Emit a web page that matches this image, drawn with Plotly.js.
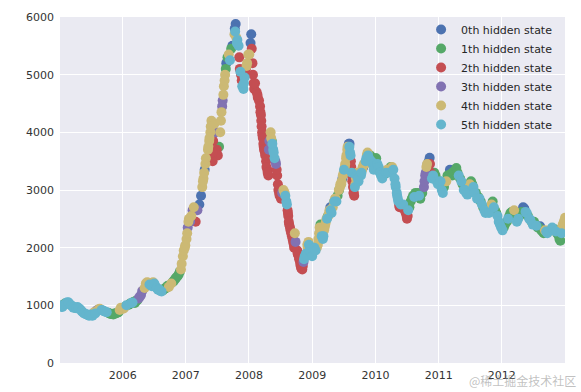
<!DOCTYPE html>
<html>
<head>
<meta charset="utf-8">
<script src="https://cdn.plot.ly/plotly-3.0.1.min.js"></script>
<style>html,body{margin:0;padding:0;background:#fff;}#chart{width:581px;height:392px;}</style>
</head>
<body>
<div id="chart"></div>
<script>
// Index close values, grouped by year; state = hidden state index (0..5)
const dates2005 = ['01-04','01-18','02-01','02-16','03-01','03-15','04-01','04-15','05-01','05-16','06-01','06-15','06-30','07-11','07-20','08-01','08-15','09-01','09-15','10-01','10-17','11-01','11-15','12-01','12-15',
  '01-11','01-25','02-08','02-23','03-08','03-22','04-08','04-22','05-09','05-23','06-08','06-22','07-05','07-27','08-08','08-22','09-08','09-22','10-10','10-24','11-08','11-22','12-08','12-22'];
const close2005 = [1000,970,1030,1055,1020,990,960,970,930,880,850,830,840,820,880,900,930,920,900,880,860,850,860,870,920,
  990,1000,1040,1050,1000,960,950,950,900,860,840,820,830,860,920,940,910,890,870,850,840,860,880,960];
const state2005 = [5,5,1,5,5,5,1,5,5,5,5,5,5,5,4,3,4,5,5,5,1,1,1,1,4,
  5,1,5,5,5,5,5,5,5,5,5,5,5,5,3,4,5,5,1,1,1,1,1,4];

const dates2006 = ['01-04','01-16','02-06','02-20','03-06','03-20','04-03','04-17','05-08','05-15','05-29','06-12','06-26','07-10','07-24','08-07','08-21','09-04','09-18','10-09','10-23','11-06','11-20','12-04','12-15','12-29',
  '01-10','01-23','02-13','02-27','03-13','03-27','04-10','04-24','05-22','06-05','06-19','07-03','07-17','07-31','08-14','08-28','09-11','09-25','10-16','10-30','11-13','11-27','12-08','12-20','12-26'];
const close2006 = [940,980,1010,1040,1060,1080,1120,1180,1300,1380,1390,1350,1400,1330,1270,1250,1260,1300,1340,1380,1420,1480,1530,1620,1850,2040,
  960,1000,1030,1050,1040,1090,1150,1250,1400,1360,1330,1380,1300,1280,1240,1280,1300,1320,1400,1450,1500,1580,1720,1950,2000];
const state2006 = [4,1,1,5,1,1,3,3,4,4,4,5,4,5,5,5,1,1,1,4,1,1,1,4,4,4,
  4,5,1,5,1,1,3,3,4,5,5,5,5,5,5,1,1,4,1,1,1,1,4,4,4];

const dates2007 = ['01-05','01-12','01-19','01-26','02-02','02-09','02-16','02-27','03-09','03-20','03-30','04-06','04-13','04-20','04-27','05-09','05-16','05-23','05-29','06-04','06-08','06-15','06-22','06-29','07-05','07-12','07-19','07-26','08-02','08-09','08-16','08-23','08-30','09-06','09-13','09-20','09-27','10-09','10-16','10-19','10-26','11-02','11-09','11-16','11-23','11-30','12-07','12-14','12-21','12-28',
  '01-09','01-16','04-10','04-17','04-24','05-11','05-18','05-25','05-31','06-05','06-06','07-23','07-30','08-06','08-13','08-20','10-11','10-13','10-23','11-06','11-12','11-20','12-03','12-10','12-18'];
const close2007 = [2150,2350,2500,2450,2550,2650,2700,2450,2650,2750,2900,3050,3200,3350,3550,3700,3850,4000,4200,3600,3850,4150,4000,3700,3600,3750,4000,4350,4550,4800,5000,5200,5300,5350,5250,5450,5500,5700,5880,5650,5600,5500,5100,5000,4800,4750,4950,5100,5200,5350,
  2250,2450,3150,3300,3450,3750,3900,4100,3900,3500,3650,4200,4450,4650,4900,5100,5800,5750,5550,5300,5050,4900,4850,5000,5150];
const state2007 = [4,3,4,3,4,3,4,2,3,0,0,4,4,0,4,4,4,4,4,2,2,4,3,2,2,1,4,4,3,4,4,0,1,4,5,1,0,4,0,4,5,5,2,2,5,5,5,2,4,4,
  4,4,4,4,4,4,4,4,2,2,2,4,3,4,4,1,0,5,5,2,5,2,5,2,4];

const dates2008 = ['01-03','01-10','01-14','01-17','01-21','01-24','01-31','02-05','02-14','02-21','02-28','03-05','03-12','03-19','03-26','04-02','04-09','04-16','04-22','04-25','05-05','05-12','05-20','05-28','06-05','06-12','06-19','06-26','07-04','07-11','07-18','07-25','08-04','08-11','08-15','08-20','08-28','09-05','09-12','09-18','09-22','09-26','10-08','10-15','10-22','10-28','11-04','11-11','11-18','11-25','12-03','12-10','12-17','12-24','12-31',
  '01-28','02-19','03-07','03-10','03-14','03-17','03-21','03-24','03-28','04-04','04-11','04-18','04-28','05-08','05-15','05-23','06-02','06-09','06-16','06-23','07-29','08-07','08-13','08-18','08-25','09-01','09-09','09-16','10-06','10-10','10-17','10-24','10-31','11-07','11-14','12-05','12-12'];
const close2008 = [5350,5550,5700,5450,5200,5000,4750,4850,4700,4600,4550,4450,4200,3950,3750,3650,3500,3350,3250,3700,4000,3850,3700,3550,3450,3250,3000,2900,2850,2950,3000,2950,2800,2650,2550,2400,2300,2200,2100,2000,2250,2100,1900,1850,1750,1650,1620,1750,1850,1900,2050,2100,1950,1900,1850,
  4850,4650,4350,4300,4100,4000,3900,3800,3700,3600,3400,3300,3850,3900,3800,3650,3500,3350,3100,2950,2900,2750,2600,2450,2350,2250,2150,2050,1950,1880,1800,1700,1640,1680,1800,2000,2050];
const state2008 = [4,0,0,2,2,2,2,2,2,2,2,2,2,2,2,2,2,2,2,3,4,1,5,5,3,2,2,2,2,3,4,4,5,2,2,2,2,2,2,2,4,3,2,2,2,2,2,3,5,5,4,4,5,3,5,
  2,2,2,2,2,2,2,2,2,2,2,2,3,4,5,5,3,2,2,2,5,5,2,2,2,2,2,2,2,2,2,2,2,2,5,4,5];

const dates2009 = ['01-06','01-13','01-20','02-02','02-09','02-17','02-24','03-03','03-10','03-17','03-24','04-01','04-08','04-15','04-22','04-29','05-06','05-13','05-20','05-27','06-03','06-10','06-17','06-24','07-01','07-08','07-15','07-22','07-29','08-04','08-07','08-12','08-17','08-20','08-27','08-31','09-04','09-10','09-17','09-25','10-09','10-16','10-23','11-02','11-09','11-16','11-24','12-01','12-08','12-15','12-22','12-31',
  '01-27','02-05','02-12','02-19','03-06','03-13','03-20','03-27','04-03','04-10','04-17','05-08','05-15','06-05','06-12','06-19','06-26','07-03','07-10','07-17','07-24','07-31','08-03','08-10','08-14','08-18','08-24','08-28','09-07','09-14','09-21','10-12','10-19','10-26','11-05','11-12','11-19'];
const close2009 = [1950,2000,1950,2050,2250,2400,2200,2150,2300,2400,2500,2550,2600,2700,2600,2700,2800,2850,2800,2900,3000,3050,3100,3200,3300,3400,3550,3700,3750,3800,3650,3500,3300,3150,2950,2900,3050,3200,3300,3150,3250,3350,3400,3450,3550,3650,3550,3600,3500,3450,3350,3550,
  2000,2150,2350,2350,2200,2350,2450,2500,2550,2650,2650,2800,2850,3000,3100,3150,3250,3350,3450,3600,3750,3800,3750,3600,3400,3250,3050,2950,3100,3250,3200,3300,3400,3450,3500,3600,3600];
const state2009 = [4,5,5,4,4,1,5,5,4,4,4,1,4,0,5,4,4,4,5,1,4,4,4,0,4,4,4,4,0,0,5,2,5,2,2,2,5,4,4,5,5,4,0,4,5,4,5,1,5,5,5,1,
  4,4,4,1,5,4,4,5,4,4,5,5,4,1,4,4,4,5,4,4,4,0,5,5,2,2,2,2,4,5,5,5,4,4,5,4,5];

const dates2010 = ['01-05','01-12','01-19','01-26','02-02','02-09','02-23','03-02','03-09','03-16','03-23','03-30','04-07','04-14','04-21','04-28','05-06','05-13','05-20','05-27','06-03','06-10','06-18','06-25','07-02','07-09','07-16','07-23','07-30','08-06','08-13','08-20','08-27','09-03','09-10','09-17','09-28','10-08','10-15','10-22','10-29','11-05','11-10','11-16','11-23','11-30','12-07','12-14','12-21','12-28',
  '04-26','05-04','05-10','05-17','06-30','07-06','10-11','10-18','10-26','11-12','11-18'];
const close2010 = [3550,3450,3400,3300,3250,3200,3280,3300,3350,3300,3350,3400,3400,3350,3200,3050,2900,2800,2700,2750,2700,2750,2650,2600,2500,2650,2700,2800,2850,2900,2880,2950,2900,2950,2900,2850,2950,3050,3250,3400,3450,3500,3560,3300,3200,3250,3300,3250,3150,3100,
  3100,2950,2850,2750,2550,2550,3150,3300,3450,3450,3250];
const state2010 = [1,5,5,5,5,5,1,5,4,5,4,1,4,5,5,5,5,5,2,5,2,5,2,2,2,5,1,1,1,1,5,1,1,1,5,1,1,3,3,4,0,0,0,2,5,5,1,1,5,5,
  5,5,5,2,2,2,3,3,4,2,2];

const dates2011 = ['01-05','01-12','01-19','01-25','02-01','02-14','02-21','02-28','03-07','03-14','03-21','03-28','04-06','04-13','04-20','04-27','05-05','05-12','05-19','05-26','06-02','06-09','06-16','06-23','06-30','07-07','07-14','07-21','07-28','08-04','08-11','08-18','08-25','09-01','09-08','09-15','09-22','09-29','10-12','10-19','10-26','11-02','11-09','11-16','11-23','11-30','12-07','12-14','12-21','12-28'];
const close2011 = [3150,3150,3000,2950,3050,3150,3250,3250,3350,3280,3250,3320,3350,3380,3300,3250,3200,3150,3100,3000,3000,2950,2920,3000,3100,3150,3100,3050,2950,2950,2850,2880,2850,2800,2750,2700,2650,2600,2650,2600,2700,2750,2800,2700,2650,2600,2550,2450,2400,2350];
const state2011 = [1,5,5,5,1,4,1,1,0,1,1,1,0,1,1,5,1,5,1,5,5,5,5,1,4,1,1,5,5,1,5,1,5,1,5,1,5,5,1,5,1,4,1,5,1,1,5,5,5,5];

const dates2012 = ['01-05','01-12','01-19','01-30','02-06','02-13','02-20','02-27','03-05','03-12','03-19','03-28','04-05','04-12','04-19','04-26','05-03','05-10','05-17','05-24','05-31','06-07','06-14','06-21','06-28','07-05','07-12','07-19','07-26','08-02','08-09','08-16','08-23','08-30','09-06','09-13','09-20','09-27','10-11','10-18','10-25','11-01','11-08','11-15','11-22','11-29','12-04','12-11','12-14','12-18','12-24','12-31'];
const close2012 = [2300,2350,2400,2450,2500,2550,2600,2620,2600,2650,2580,2450,2500,2550,2600,2620,2700,2680,2620,2600,2550,2500,2480,2450,2400,2450,2400,2380,2350,2350,2370,2300,2280,2250,2300,2280,2250,2280,2320,2350,2300,2320,2280,2250,2220,2150,2120,2250,2350,2400,2450,2520];
const state2012 = [5,1,1,1,5,1,1,1,1,4,1,5,5,1,1,1,0,0,5,5,1,5,5,1,5,1,1,5,1,1,0,1,1,1,4,5,5,4,4,5,5,1,5,1,1,1,1,5,4,4,4,4];

const years = [2005,2006,2007,2008,2009,2010,2011,2012];
const yearDates = [dates2005,dates2006,dates2007,dates2008,dates2009,dates2010,dates2011,dates2012];
const yearClose = [close2005,close2006,close2007,close2008,close2009,close2010,close2011,close2012];
const yearState = [state2005,state2006,state2007,state2008,state2009,state2010,state2011,state2012];

const stateNames = ['0th hidden state','1th hidden state','2th hidden state','3th hidden state','4th hidden state','5th hidden state'];
const stateColors = ['#4C72B0','#55A868','#C44E52','#8172B2','#CCB974','#64B5CD'];
const xTickVals = ['2006-01-01','2007-01-01','2008-01-01','2009-01-01','2010-01-01','2011-01-01','2012-01-01'];
const xTickText = ['2006','2007','2008','2009','2010','2011','2012'];
const yTickVals = [0,1000,2000,3000,4000,5000,6000];

const traces = stateNames.map((name, s) => {
  const x = [], y = [];
  years.forEach((yr, i) => {
    yearDates[i].forEach((d, j) => {
      if (yearState[i][j] === s) { x.push(yr + '-' + d); y.push(yearClose[i][j]); }
    });
  });
  return {
    type: 'scatter', mode: 'markers', name: name, x: x, y: y,
    marker: {color: stateColors[s], size: 10, line: {width: 0}},
    hoverinfo: 'skip'
  };
});

const font = {family: 'DejaVu Sans, sans-serif', size: 11, color: '#333333'};
const layout = {
  width: 581, height: 392,
  margin: {l: 60, r: 16, t: 17, b: 29, pad: 0},
  paper_bgcolor: '#ffffff',
  plot_bgcolor: '#EAEAF2',
  font: font,
  showlegend: true,
  legend: {
    x: 0.715, xanchor: 'left', y: 1.006, yanchor: 'top',
    bgcolor: 'rgba(0,0,0,0)', borderwidth: 0,
    font: {family: 'DejaVu Sans, sans-serif', size: 11, color: '#262626'}
  },
  xaxis: {
    type: 'date', range: ['2005-01-04', '2012-12-31'],
    tickmode: 'array', tickvals: xTickVals, ticktext: xTickText,
    showgrid: true, gridcolor: '#ffffff', gridwidth: 1,
    zeroline: false, showline: false, ticks: '',
    ticklabelstandoff: 4,
    tickfont: font
  },
  yaxis: {
    range: [0, 6000],
    tickmode: 'array', tickvals: yTickVals,
    showgrid: true, gridcolor: '#ffffff', gridwidth: 1,
    zeroline: false, showline: false, ticks: '',
    ticklabelstandoff: 5,
    tickfont: font
  },
  annotations: [{
    text: '@稀土掘金技术社区', xref: 'paper', yref: 'paper',
    x: 0.915, y: -0.052, xanchor: 'center', yanchor: 'middle',
    showarrow: false,
    font: {family: 'Noto Sans CJK SC, sans-serif', size: 12, color: 'rgba(140,140,140,0.55)'}
  }]
};

Plotly.newPlot('chart', traces, layout, {displayModeBar: false, staticPlot: true});
</script>
</body>
</html>
